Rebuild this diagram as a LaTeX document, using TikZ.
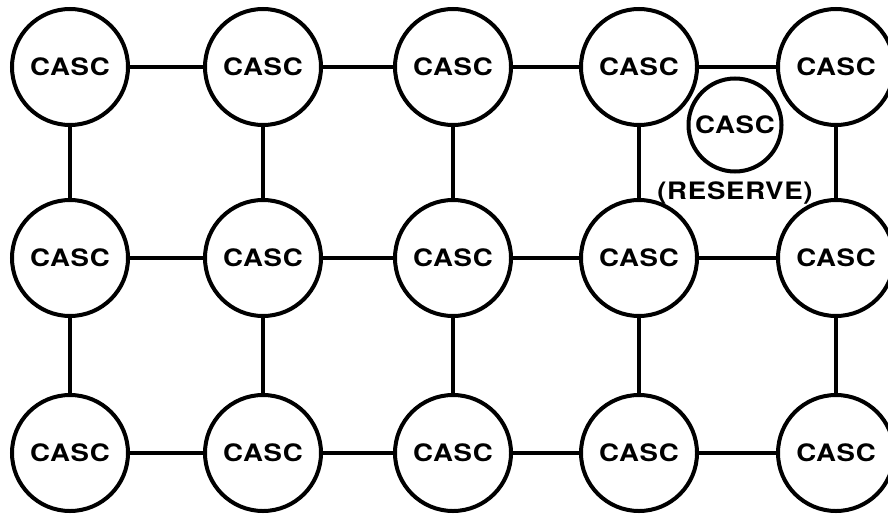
\documentclass[tikz,border=0pt]{standalone}
\usepackage{fontspec}
\setmainfont{TeX Gyre Heros}[FakeStretch=1.15,LetterSpace=3]
\usetikzlibrary{positioning}
\tikzstyle{casc} = [circle, draw, line width=4pt, minimum size=116pt,
  inner sep=0pt, font=\fontsize{24}{26}\selectfont\bfseries]
\tikzstyle{reserve} = [casc, minimum size=93pt]
\tikzstyle{link} = [line width=4pt]

\begin{document}
\begin{tikzpicture}[x=1pt, y=-1pt]
  \useasboundingbox (0,0) rectangle (888,514);

  % grid of units
  \foreach \x/\i in {70/1,263/2,453/3,639/4,836/5} {
    \foreach \y/\j in {67/1,258/2,453/3} {
      \node[casc] (c\i-\j) at (\x,\y) {CASC};
    }
  }

  % rows
  \foreach \i/\k in {1/2,2/3,3/4,4/5} {
    \foreach \j in {1,2,3} {
      \draw[link] (c\i-\j) -- (c\k-\j);
    }
  }

  % columns
  \foreach \i in {1,...,5} {
    \draw[link] (c\i-1) -- (c\i-2);
    \draw[link] (c\i-2) -- (c\i-3);
  }

  % spare unit
  \node[reserve] (spare) at (735,125) {CASC};
  \node[font=\fontsize{24}{26}\selectfont\bfseries, inner sep=0pt,
    below=8pt of spare] (spare-label) {(RESERVE)};
\end{tikzpicture}
\end{document}
